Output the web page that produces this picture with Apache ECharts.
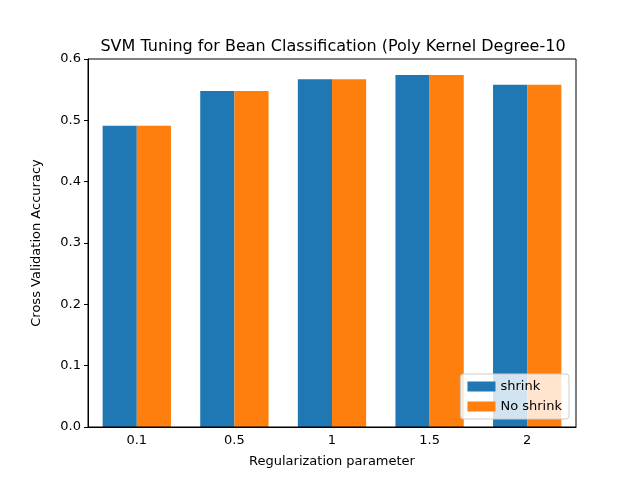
<!DOCTYPE html>
<html>
<head>
<meta charset="utf-8">
<script src="https://cdn.jsdelivr.net/npm/echarts@6/dist/echarts.min.js"></script>
<style>html,body{margin:0;padding:0;background:#fff}#main{width:640px;height:480px}</style>
</head>
<body>
<div id="main"></div>
<script>
var categories = ['0.1', '0.5', '1', '1.5', '2'];
var shrink = [0.491, 0.548, 0.567, 0.574, 0.558];
var noShrink = [0.491, 0.548, 0.567, 0.574, 0.558];
var yTicks = [0, 0.1, 0.2, 0.3, 0.4, 0.5, 0.6];

var myChart = echarts.init(document.getElementById('main'));
var font = 'DejaVu Sans';
var option = {
    animation: false,
    textStyle: {fontFamily: font},
    title: {
        text: 'SVM Tuning for Bean Classification (Poly Kernel Degree-10',
        left: 328, top: 34, textAlign: 'center',
        textStyle: {fontFamily: font, fontSize: 16, fontWeight: 'normal', color: '#000'}
    },
    legend: {
        data: ['shrink', 'No shrink'],
        orient: 'vertical',
        right: 71, top: 374,
        itemWidth: 28, itemHeight: 10, itemGap: 7,
        padding: [6, 7],
        borderColor: '#ccc', borderWidth: 1, borderRadius: 3,
        backgroundColor: 'rgba(255,255,255,0.8)',
        icon: 'rect',
        textStyle: {fontFamily: font, fontSize: 13, color: '#000'}
    },
    grid: {left: 88, right: 64, top: 59, bottom: 53},
    xAxis: {
        type: 'category',
        data: categories,
        name: 'Regularization parameter',
        nameLocation: 'middle', nameGap: 28,
        nameTextStyle: {fontFamily: font, fontSize: 13, color: '#000'},
        axisLine: {lineStyle: {color: '#000'}},
        axisTick: {alignWithLabel: true, length: 4, lineStyle: {color: '#000'}},
        axisLabel: {fontFamily: font, fontSize: 13, color: '#000', margin: 7},
        splitLine: {show: false}
    },
    yAxis: {
        type: 'value',
        min: 0, max: 0.6, interval: 0.1,
        name: 'Cross Validation Accuracy',
        nameLocation: 'middle', nameGap: 45,
        nameTextStyle: {fontFamily: font, fontSize: 13, color: '#000'},
        axisLine: {show: true, lineStyle: {color: '#000'}},
        axisTick: {show: true, length: 4, lineStyle: {color: '#000'}},
        axisLabel: {fontFamily: font, fontSize: 13, color: '#000', margin: 7,
            formatter: function (v) { return v.toFixed(1); }},
        splitLine: {show: false}
    },
    series: [{
        name: 'shrink', type: 'bar', data: shrink,
        itemStyle: {color: '#1f77b4'}, barGap: '0%', barCategoryGap: '30%'
    }, {
        name: 'No shrink', type: 'bar', data: noShrink,
        itemStyle: {color: '#ff7f0e'}
    }],
    graphic: [{
        type: 'rect', shape: {x: 88, y: 59, width: 488, height: 368},
        style: {fill: 'none', stroke: '#000', lineWidth: 1}, z: 100
    }]
};
myChart.setOption(option);
</script>
</body>
</html>
